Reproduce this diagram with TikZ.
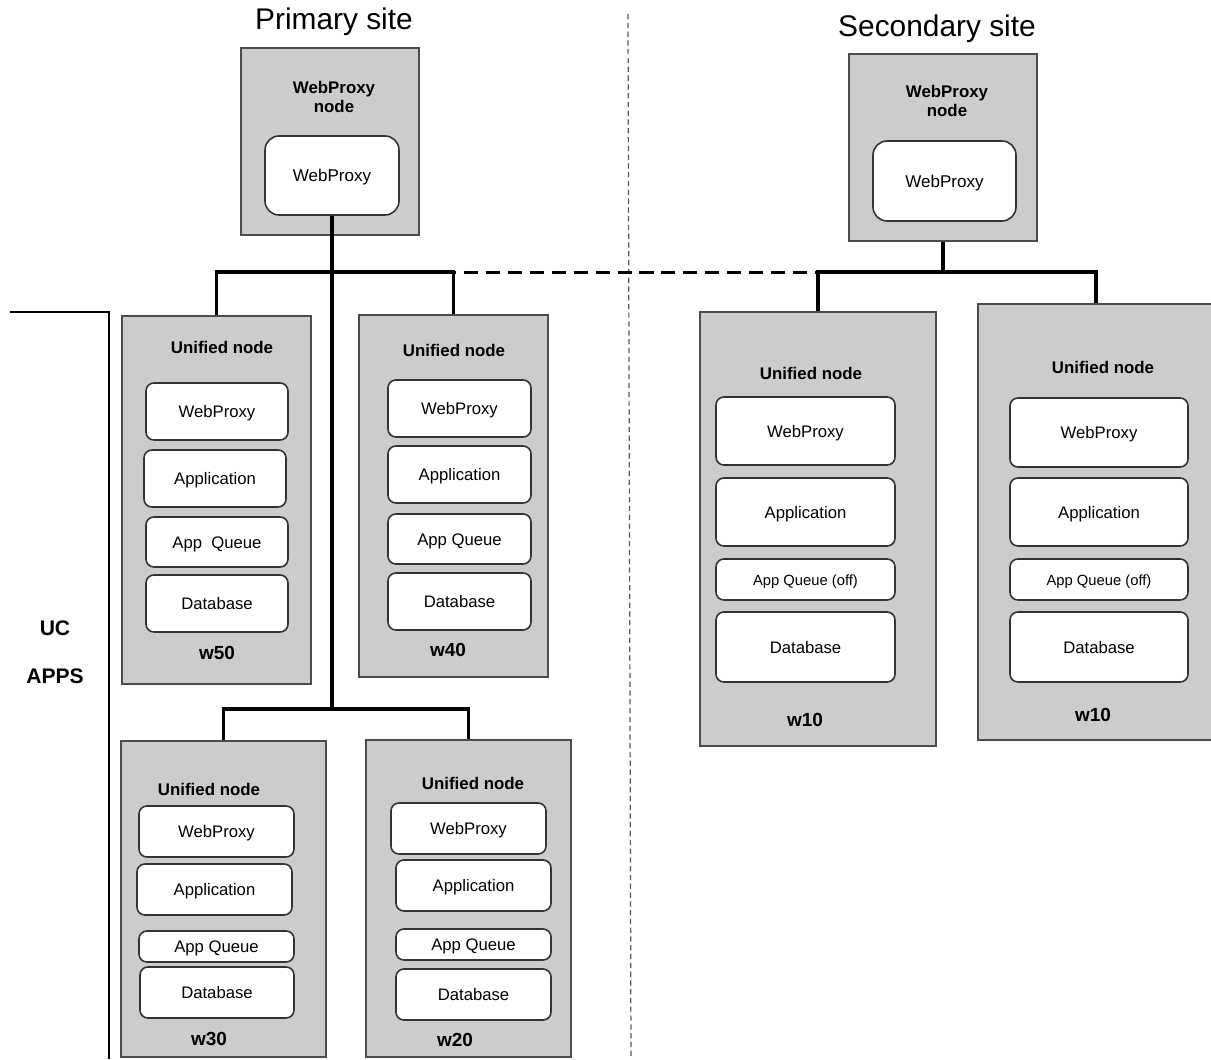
\documentclass[tikz,border=0pt]{standalone}
\usepackage{fontspec}
\setmainfont{Liberation Sans}
\begin{document}
\begin{tikzpicture}[x=0.02cm,y=-0.02cm,
    host/.style={draw=black!70,line width=0.9pt,fill=black!20,inner sep=0pt},
    part/.style={draw=black!80,line width=0.9pt,fill=white,rounded corners=4.5pt,inner sep=0pt,text height=0.76em,text depth=0.04em,font=\fontsize{9.5}{11}\selectfont},
    head/.style={font=\bfseries\fontsize{9.6}{11.3}\selectfont,align=center},
    tag/.style={font=\bfseries\fontsize{10.8}{13}\selectfont},
    title/.style={font=\fontsize{17}{20}\selectfont},
    bus/.style={line width=2.2pt},
    link/.style={line width=1.7pt,dash pattern=on 8pt off 4.5pt},
    divide/.style={line width=0.7pt,draw=black!65,dash pattern=on 3pt off 2pt}]
        \def\px{0.02cm}
        \useasboundingbox (0,0) rectangle (1211,1059);
        % sites
        \node (T0) [title] at (334,22) {Primary site};
        \node (T1) [title] at (937,29) {Secondary site};
        \draw[divide] (628,14) -- (631,1059);
        % webproxy nodes
        \node (P0_0) [host,minimum width=178*\px,minimum height=187*\px] at (330,141.5) {};
        \node (P0_h) [head] at (334,97) {WebProxy\\node};
        \node (P0_1) [part,rounded corners=8pt,font=\fontsize{9.7}{11}\selectfont,minimum width=134*\px,minimum height=79*\px] at (332,175.5) {WebProxy};
        \node (P1_0) [host,minimum width=188*\px,minimum height=187*\px] at (943,147.5) {};
        \node (P1_h) [head] at (947,101) {WebProxy\\node};
        \node (P1_1) [part,rounded corners=8pt,font=\fontsize{9.7}{11}\selectfont,minimum width=143*\px,minimum height=80*\px] at (944.5,181) {WebProxy};
        % w50
        \node (U0) [host,minimum width=189*\px,minimum height=368*\px] at (216.5,500) {};
        \node (U0_h) [head] at (222,347) {Unified node};
        \node (U0_1) [part,minimum width=142*\px,minimum height=57*\px] at (217,411.5) {WebProxy};
        \node (U0_2) [part,minimum width=142*\px,minimum height=57*\px] at (215,478.5) {Application};
        \node (U0_3) [part,minimum width=142*\px,minimum height=50*\px,text depth=-0.3em] at (217,542) {App\ \ Queue};
        \node (U0_4) [part,minimum width=142*\px,minimum height=57*\px] at (217,603.5) {Database};
        \node (U0_t) [tag] at (217,653) {w50};
        % w40
        \node (U1) [host,minimum width=189*\px,minimum height=362*\px] at (453.5,496) {};
        \node (U1_h) [head] at (454,350) {Unified node};
        \node (U1_1) [part,minimum width=143*\px,minimum height=57*\px] at (459.5,408.5) {WebProxy};
        \node (U1_2) [part,minimum width=143*\px,minimum height=57*\px] at (459.5,474.5) {Application};
        \node (U1_3) [part,minimum width=143*\px,minimum height=50*\px] at (459.5,539) {App Queue};
        \node (U1_4) [part,minimum width=143*\px,minimum height=57*\px] at (459.5,601.5) {Database};
        \node (U1_t) [tag] at (448,650) {w40};
        % w30
        \node (U2) [host,minimum width=205*\px,minimum height=316*\px] at (223.5,899) {};
        \node (U2_h) [head] at (209,789) {Unified node};
        \node (U2_1) [part,minimum width=155*\px,minimum height=51*\px] at (216.5,831.5) {WebProxy};
        \node (U2_2) [part,minimum width=155*\px,minimum height=51*\px] at (214.5,889.5) {Application};
        \node (U2_3) [part,minimum width=155*\px,minimum height=31*\px] at (216.5,946.5) {App Queue};
        \node (U2_4) [part,minimum width=154*\px,minimum height=51*\px] at (217,992.5) {Database};
        \node (U2_t) [tag] at (209,1039) {w30};
        % w20
        \node (U3) [host,minimum width=205*\px,minimum height=317*\px] at (468.5,898.5) {};
        \node (U3_h) [head] at (473,783) {Unified node};
        \node (U3_1) [part,minimum width=155*\px,minimum height=51*\px] at (468.5,828.5) {WebProxy};
        \node (U3_2) [part,minimum width=155*\px,minimum height=51*\px] at (473.5,885.5) {Application};
        \node (U3_3) [part,minimum width=155*\px,minimum height=31*\px] at (473.5,944.5) {App Queue};
        \node (U3_4) [part,minimum width=155*\px,minimum height=51*\px] at (473.5,994.5) {Database};
        \node (U3_t) [tag] at (455,1040) {w20};
        % w10, secondary
        \node (U4) [host,minimum width=236*\px,minimum height=434*\px] at (818,529) {};
        \node (U4_h) [head] at (811,373) {Unified node};
        \node (U4_1) [part,minimum width=179*\px,minimum height=68*\px] at (805.5,431) {WebProxy};
        \node (U4_2) [part,minimum width=179*\px,minimum height=68*\px] at (805.5,512) {Application};
        \node (U4_3) [part,font=\fontsize{8.4}{10}\selectfont,minimum width=179*\px,minimum height=41*\px] at (805.5,579.5) {App Queue (off)};
        \node (U4_4) [part,minimum width=179*\px,minimum height=70*\px] at (805.5,647) {Database};
        \node (U4_t) [tag] at (805,720) {w10};
        \node (U5) [host,minimum width=236*\px,minimum height=436*\px] at (1096,522) {};
        \node (U5_h) [head] at (1103,367) {Unified node};
        \node (U5_1) [part,minimum width=178*\px,minimum height=69*\px] at (1099,432.5) {WebProxy};
        \node (U5_2) [part,minimum width=178*\px,minimum height=68*\px] at (1099,512) {Application};
        \node (U5_3) [part,font=\fontsize{8.4}{10}\selectfont,minimum width=178*\px,minimum height=41*\px] at (1099,579.5) {App Queue (off)};
        \node (U5_4) [part,minimum width=178*\px,minimum height=70*\px] at (1099,647) {Database};
        \node (U5_t) [tag] at (1093,715) {w10};
        % UC apps
        \draw[line width=0.9pt] (10,312) -| (109,1059);
        \node (L0) [font=\bfseries\fontsize{12}{14}\selectfont] at (55,628) {UC};
        \node (L1) [font=\bfseries\fontsize{12}{14}\selectfont] at (55,676) {APPS};
        % links
        \coordinate (J0) at (332,272);
        \coordinate (J1) at (332,709);
        \coordinate (J2) at (943,272);
        \draw[bus] (P0_1.south) -- (J1);
        \draw[bus] (U0.north) |- (J0) -| (U1.north);
        \draw[bus] (U2.north) |- (J1) -| (U3.north);
        \draw[bus] (P1_0.south) -- (J2);
        \draw[bus] (U4.north) |- (J2) -| (U5.north);
        \draw[link] (J0) -- (U4.north |- J2);
\end{tikzpicture}
\end{document}
